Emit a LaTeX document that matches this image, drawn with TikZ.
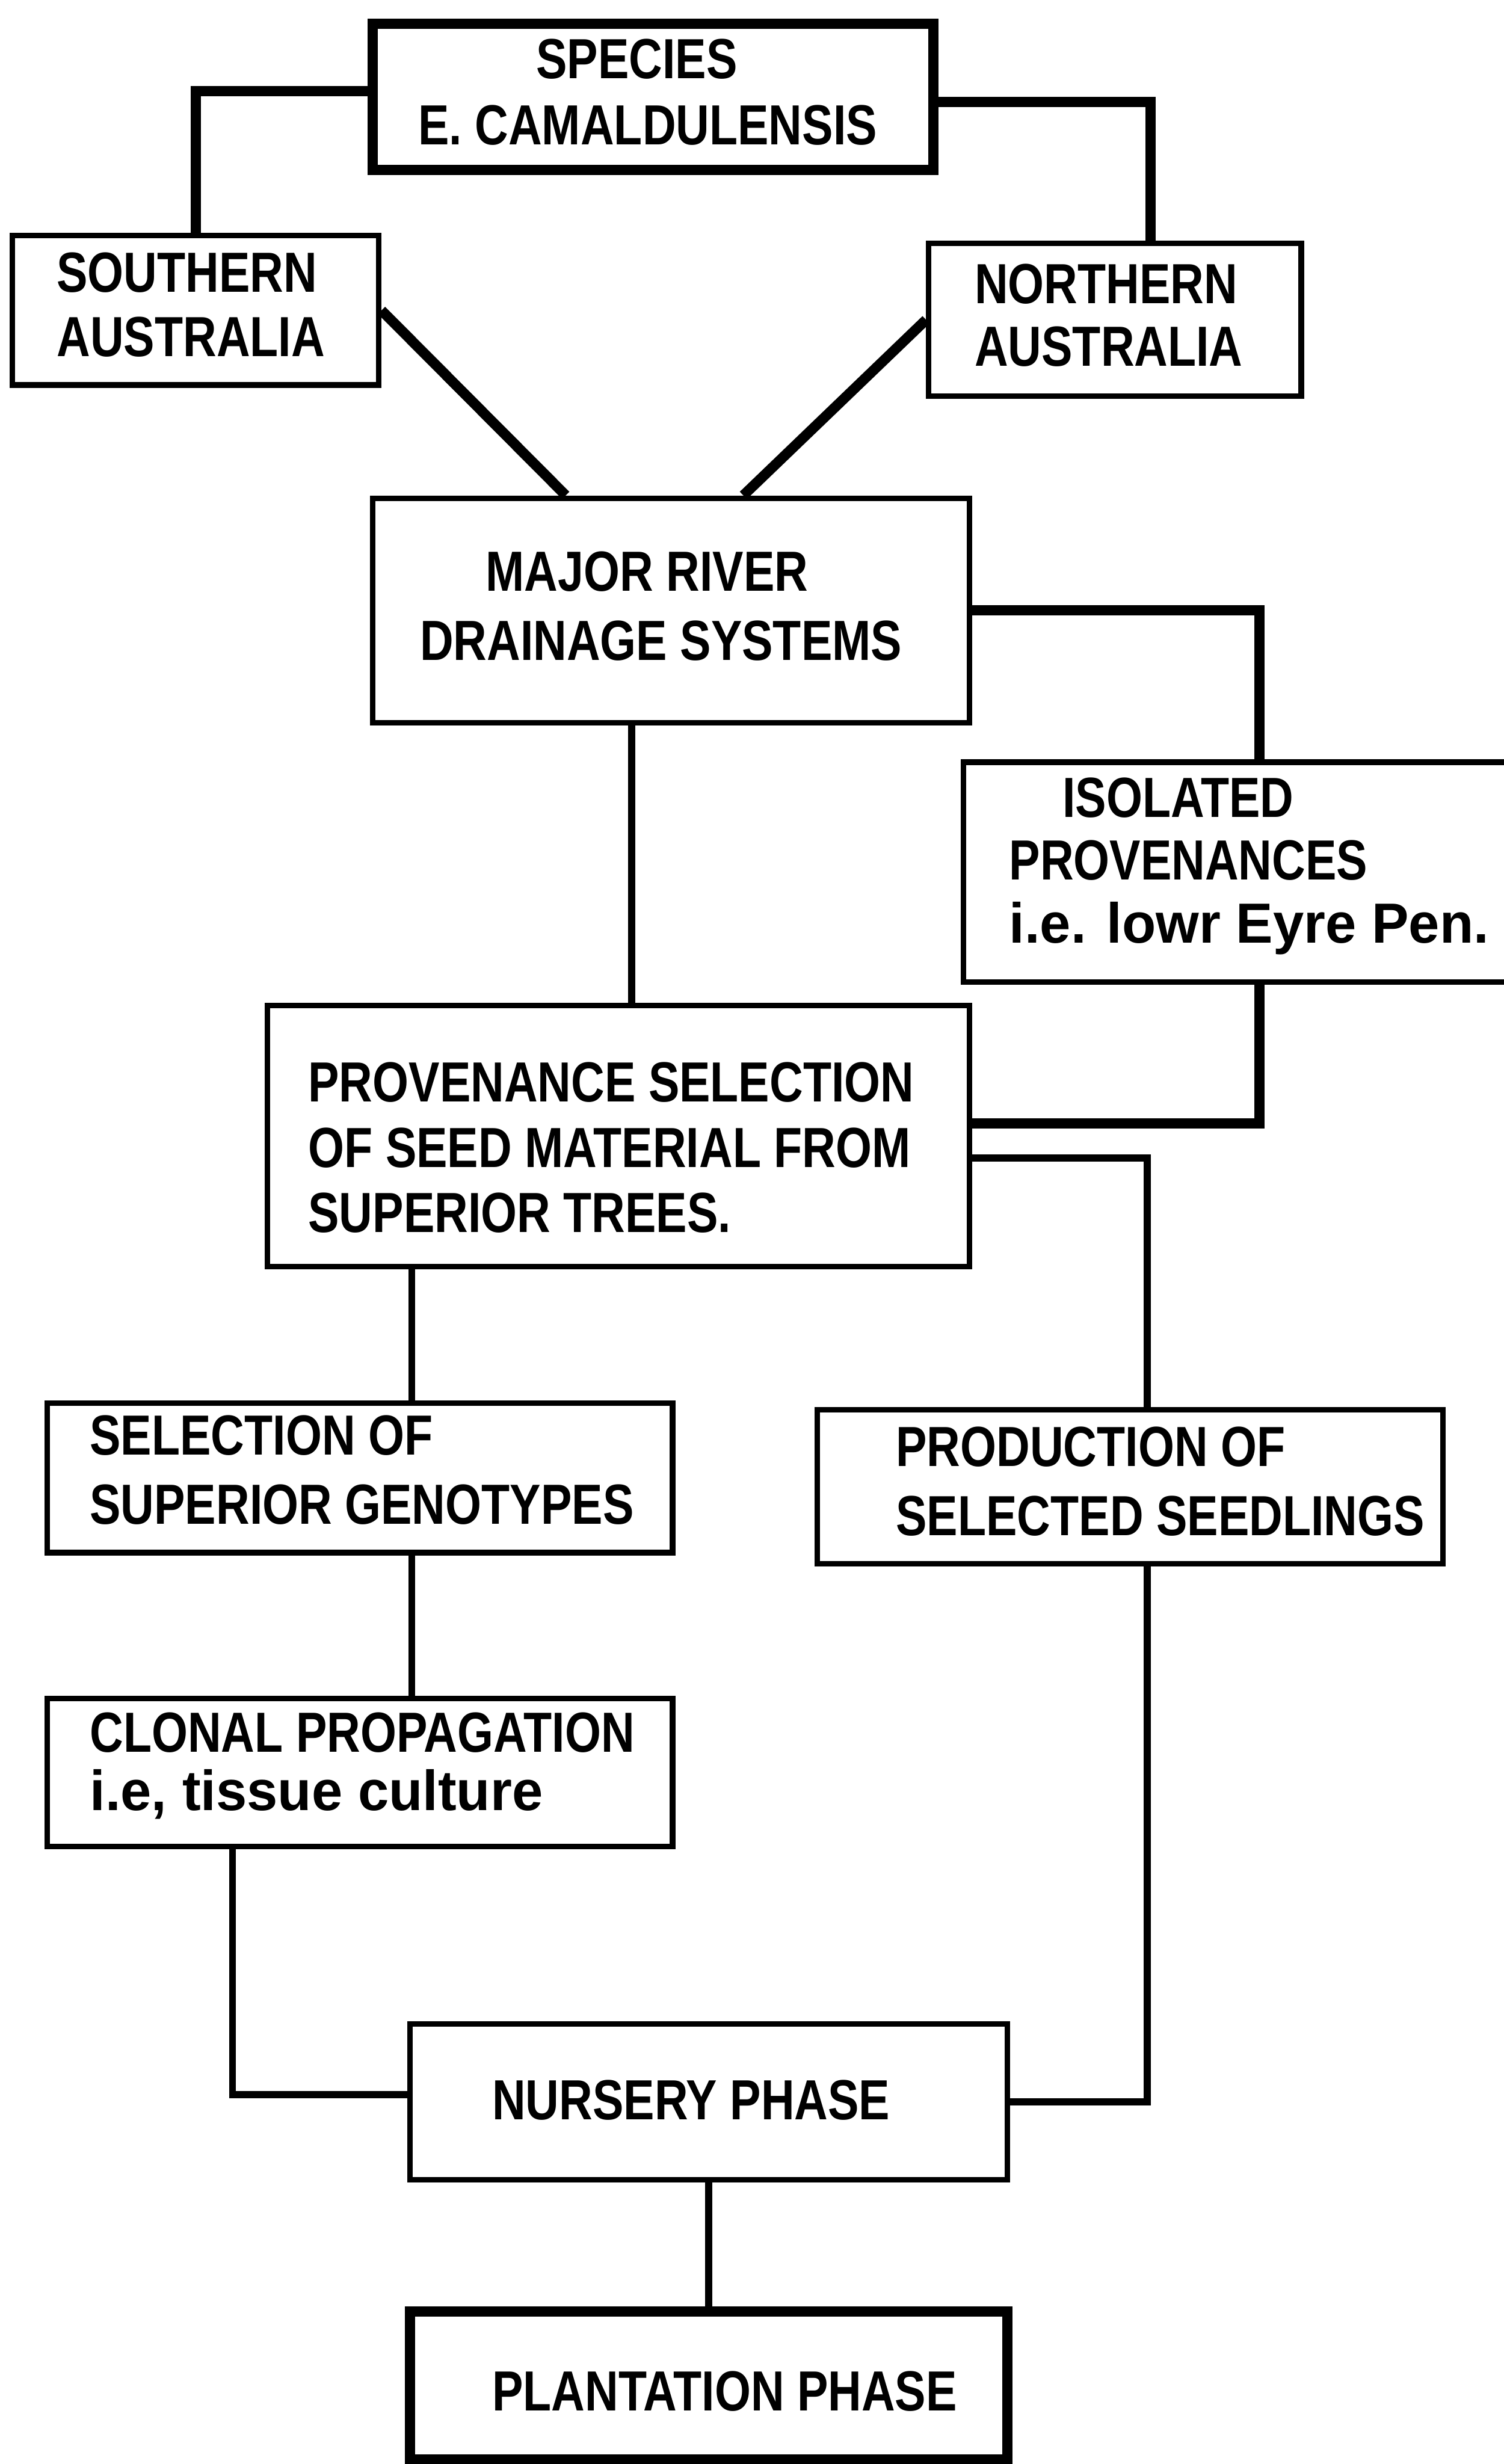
\documentclass[tikz,border=0pt]{standalone}
\usepackage{fontspec}
\newfontfamily\df{Liberation Sans}[FakeStretch=0.82]
\newfontfamily\dfw{Liberation Sans}[FakeStretch=0.98]
\begin{document}
\begin{tikzpicture}[x=1pt,y=-1pt,
  box/.style={draw, line width=3.5pt, rectangle, inner sep=0pt},
  thickbox/.style={draw, line width=6.5pt, rectangle, inner sep=0pt},
  conn/.style={line width=4.5pt},
  heavy/.style={line width=6.5pt},
  txt/.style={anchor=base west, inner sep=0pt, font=\df\bfseries\fontsize{36}{40}\selectfont},
  wtxt/.style={anchor=base west, inner sep=0pt, font=\dfw\bfseries\fontsize{36}{40}\selectfont}]
\useasboundingbox[fill=white] (0,0) rectangle (957,1568);
% boxes
\node[thickbox, minimum width=357pt, minimum height=93pt] (sp) at (415.5,61.5) {};
\node[box, minimum width=233pt, minimum height=95pt] (sa) at (124.5,197.5) {};
\node[box, minimum width=237pt, minimum height=97pt] (na) at (709.5,203.5) {};
\node[box, minimum width=380pt, minimum height=143pt] (mj) at (427,388.5) {};
\node[box, minimum width=377pt, minimum height=140pt] (iso) at (801.5,555) {};
\node[box, minimum width=447pt, minimum height=166pt] (pv) at (393.5,723) {};
\node[box, minimum width=398pt, minimum height=95pt] (sel) at (229,940.5) {};
\node[box, minimum width=398pt, minimum height=98pt] (pd) at (719,946) {};
\node[box, minimum width=398pt, minimum height=94pt] (cl) at (229,1128) {};
\node[box, minimum width=380pt, minimum height=99pt] (ns) at (451,1337.5) {};
\node[thickbox, minimum width=380pt, minimum height=94pt] (pl) at (451,1518) {};
% texts
\node[txt] (t1) at (341,50) {SPECIES};
\node[txt] (t2) at (266,92) {E. CAMALDULENSIS};
\node[txt] (t3) at (36,186) {SOUTHERN};
\node[txt] (t4) at (36,227) {AUSTRALIA};
\node[txt] (t5) at (620,193) {NORTHERN};
\node[txt] (t6) at (620,233) {AUSTRALIA};
\node[txt] (t7) at (309,376) {MAJOR RIVER};
\node[txt] (t8) at (267,420) {DRAINAGE SYSTEMS};
\node[txt] (t9) at (676,520) {ISOLATED};
\node[txt] (t10) at (642,560) {PROVENANCES};
\node[wtxt] (t11) at (642,600) {i.e. lowr Eyre Pen.};
\node[txt] (t12) at (196,701) {PROVENANCE SELECTION};
\node[txt] (t13) at (196,743) {OF SEED MATERIAL FROM};
\node[txt] (t14) at (196,784) {SUPERIOR TREES.};
\node[txt] (t15) at (57,926) {SELECTION OF};
\node[txt] (t16) at (57,970) {SUPERIOR GENOTYPES};
\node[txt] (t17) at (570,933) {PRODUCTION OF};
\node[txt] (t18) at (570,977) {SELECTED SEEDLINGS};
\node[txt] (t19) at (57,1115) {CLONAL PROPAGATION};
\node[wtxt] (t20) at (57,1152) {i.e, tissue culture};
\node[txt] (t21) at (313,1349) {NURSERY PHASE};
\node[txt] (t22) at (313,1534) {PLANTATION PHASE};
% connectors
\draw[heavy] ([yshift=3.5pt]sp.west) -| (sa.north);
\draw[heavy] ([yshift=-3.5pt]sp.east) -| ([xshift=22.5pt]na.north);
\draw[heavy] (sa.east) -- ([xshift=-67pt]mj.north);
\draw[heavy] (na.west) -- ([xshift=46pt]mj.north);
\draw[heavy] (mj.east) -| (iso.north);
\draw[conn] ([xshift=-25pt]mj.south) -- ([xshift=-25pt]mj.south |- pv.north);
\draw[heavy] (iso.south) |- ([yshift=8pt]pv.east);
\draw[conn] ([yshift=-14pt]pv.east) -| ([xshift=11pt]pd.north);
\draw[conn] ([xshift=-131.5pt]pv.south) -- ([xshift=-131.5pt]pv.south |- sel.north);
\draw[conn] ([xshift=33pt]sel.south) -- ([xshift=33pt]cl.north);
\draw[conn] ([xshift=-81pt]cl.south) |- ([yshift=4.5pt]ns.west);
\draw[conn] ([xshift=11pt]pd.south) |- (ns.east);
\draw[conn] (ns.south) -- (pl.north);
\end{tikzpicture}
\end{document}
